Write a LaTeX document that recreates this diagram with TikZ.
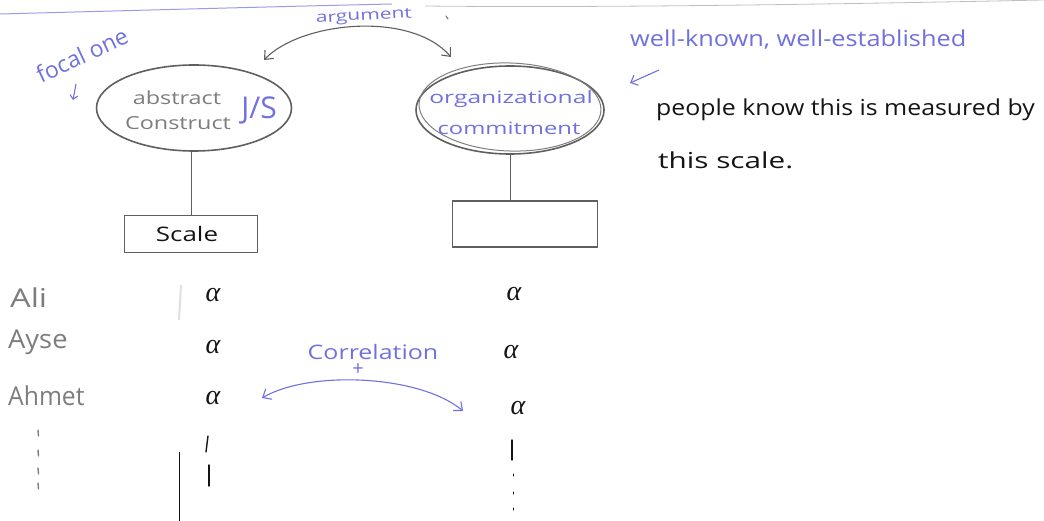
\documentclass[tikz,border=0pt]{standalone}
\usepackage{fontspec}
\setmainfont{Open Sans}
\newfontfamily\alphafont{Liberation Serif}
\usetikzlibrary{arrows.meta,shapes.geometric}
\definecolor{pen}{RGB}{112,112,222}
\definecolor{pencil}{RGB}{95,95,95}
\definecolor{lead}{RGB}{125,125,125}
\definecolor{ink}{RGB}{20,20,20}
% widen handwritten words without making them taller
\newcommand\hstretch[2]{\scalebox{#1}[1]{#2}}
\tikzset{
  idea/.style={ellipse, draw=pencil, line width=1.6pt, inner sep=0pt},
  scalebox/.style={rectangle, draw=pencil, line width=1.3pt, inner sep=0pt},
  bluetxt/.style={text=pen, inner sep=0pt},
  graytxt/.style={text=lead, font=\fontsize{18}{20}\selectfont, inner sep=0pt},
  inktxt/.style={text=ink, font=\fontsize{22}{24}\selectfont, inner sep=0pt},
  nametxt/.style={text=lead, font=\fontsize{26}{28}\selectfont, inner sep=0pt},
  alph/.style={text=ink, font=\alphafont\itshape\fontsize{28}{30}\selectfont, inner sep=0pt},
  tick/.style={draw=ink, line width=1.4pt, line cap=round},
  pendot/.style={draw=lead, line width=1.4pt, line cap=round},
  link/.style={draw=pencil, line width=1pt},
  bowarrow/.style={line width=1.1pt, {Straight Barb[length=7pt,width=12pt]}-{Straight Barb[length=7pt,width=12pt]}},
}
\begin{document}
\begin{tikzpicture}[x=1pt,y=-1pt]
\useasboundingbox (0,0) rectangle (1044,521);

% ruled line at the top of the page
\draw[pen!70, line width=1pt] (0,14) .. controls (150,10) and (300,6) .. (392,4);
\draw[lead!50, line width=0.8pt] (425,6) .. controls (600,8) and (850,4) .. (1044,0);

% the two constructs
\node[idea, minimum width=195pt, minimum height=86pt] (js) at (194,108) {};
\node[idea, minimum width=188pt, minimum height=88pt] (oc) at (510,110) {};
\draw[pencil!80, line width=1pt, rotate around={-2:(510,107)}] (510,107) ellipse [x radius=91pt, y radius=44pt];

\node[graytxt] (abs) at (177,98) {\hstretch{1.3}{abstract}};
\node[graytxt] (con) at (178,123) {\hstretch{1.3}{Construct}};
\node[bluetxt, font=\fontsize{30}{32}\selectfont] (jstag) at (259,110) {J/S};
\node[bluetxt, font=\fontsize{17}{19}\selectfont] (org) at (511,99) {\hstretch{1.45}{organizational}};
\node[bluetxt, font=\fontsize{17}{19}\selectfont] (com) at (509,128) {\hstretch{1.4}{commitment}};

% scales under each construct
\node[scalebox, minimum width=133pt, minimum height=37pt] (sc1) at (191,234) {};
\node[text=ink, font=\fontsize{20}{22}\selectfont, inner sep=0pt] (sc1t) at (187,234) {\hstretch{1.3}{Scale}};
\node[scalebox, minimum width=145pt, minimum height=46pt] (sc2) at (525,224) {};
\draw[link] (js.south) ++(-3,0) -- (sc1.north);
\draw[link] (oc.south) -- (sc2.north -| oc.south);

% argument between the constructs
\coordinate (argL) at (264,60);
\coordinate (argR) at (451,57);
\draw[pencil, bowarrow] (argL) .. controls (300,22) and (410,10) .. (argR);
\node[bluetxt, rotate=3, font=\fontsize{15}{17}\selectfont] (arg) at (364,17) {\hstretch{1.4}{argument}};
\draw[lead, line width=1.2pt, line cap=round] (446,16) -- (448,19);

% focal one
\node[bluetxt, rotate=25, font=\fontsize{23}{25}\selectfont] (focal) at (82,55) {focal one};
\coordinate (fa1) at (76,84);
\coordinate (fa2) at (73,100);
\draw[pen, line width=1.1pt, -{Straight Barb[length=4pt,width=8pt]}] (fa1) -- (fa2);

% well-known note
\node[bluetxt, anchor=west, font=\fontsize{22}{24}\selectfont] (wk) at (630,40) {\hstretch{1.15}{well-known, well-established}};
\coordinate (wa1) at (659,70);
\coordinate (wa2) at (630,83);
\draw[pen, line width=1.1pt, -{Straight Barb[length=6pt,width=11pt]}] (wa1) -- (wa2);

\node[inktxt, anchor=west] (pk) at (656,110) {\hstretch{1.13}{people know this is measured by}};
\node[inktxt, anchor=west] (ts) at (658,160) {\hstretch{1.35}{this scale.}};

% respondents
\node[nametxt, anchor=west] (ali) at (10,298) {\hstretch{1.25}{Ali}};
\node[nametxt, anchor=west] (ayse) at (8,342) {\hstretch{1.05}{Ayse}};
\node[nametxt, anchor=west] (ahmet) at (8,396) {\hstretch{0.95}{Ahmet}};
\foreach \y in {430,450,468,483} \draw[pendot] (38,\y) -- (38.5,\y+6);

% alpha values for each scale
\node[alph] (a11) at (213,295) {α};
\node[alph] (a12) at (213,347) {α};
\node[alph] (a13) at (213,398) {α};
\draw[tick] (208,436) -- (206,452);
\draw[tick] (209,465) -- (209,486);
\node[alph] (a21) at (514,294) {α};
\node[alph] (a22) at (511,352) {α};
\node[alph] (a23) at (518,408) {α};
\draw[tick] (512,440) -- (512,460);
\foreach \y in {474,492,508} \draw[tick, line width=1pt] (513,\y) -- (513,\y+2);
\draw[ink, line width=0.8pt] (179,452) -- (179,521);
\draw[lead!25, line width=2pt] (181,285) -- (179,320);

% correlation between the alpha columns
\coordinate (corL) at (262,398);
\coordinate (corR) at (463,411);
\draw[pen, bowarrow] (corL) .. controls (310,370) and (420,375) .. (corR);
\node[bluetxt, font=\fontsize{20}{22}\selectfont] (corr) at (373,352) {\hstretch{1.25}{Correlation}};
\node[bluetxt, font=\fontsize{20}{22}\selectfont] (plus) at (358,370) {+};
\end{tikzpicture}
\end{document}
